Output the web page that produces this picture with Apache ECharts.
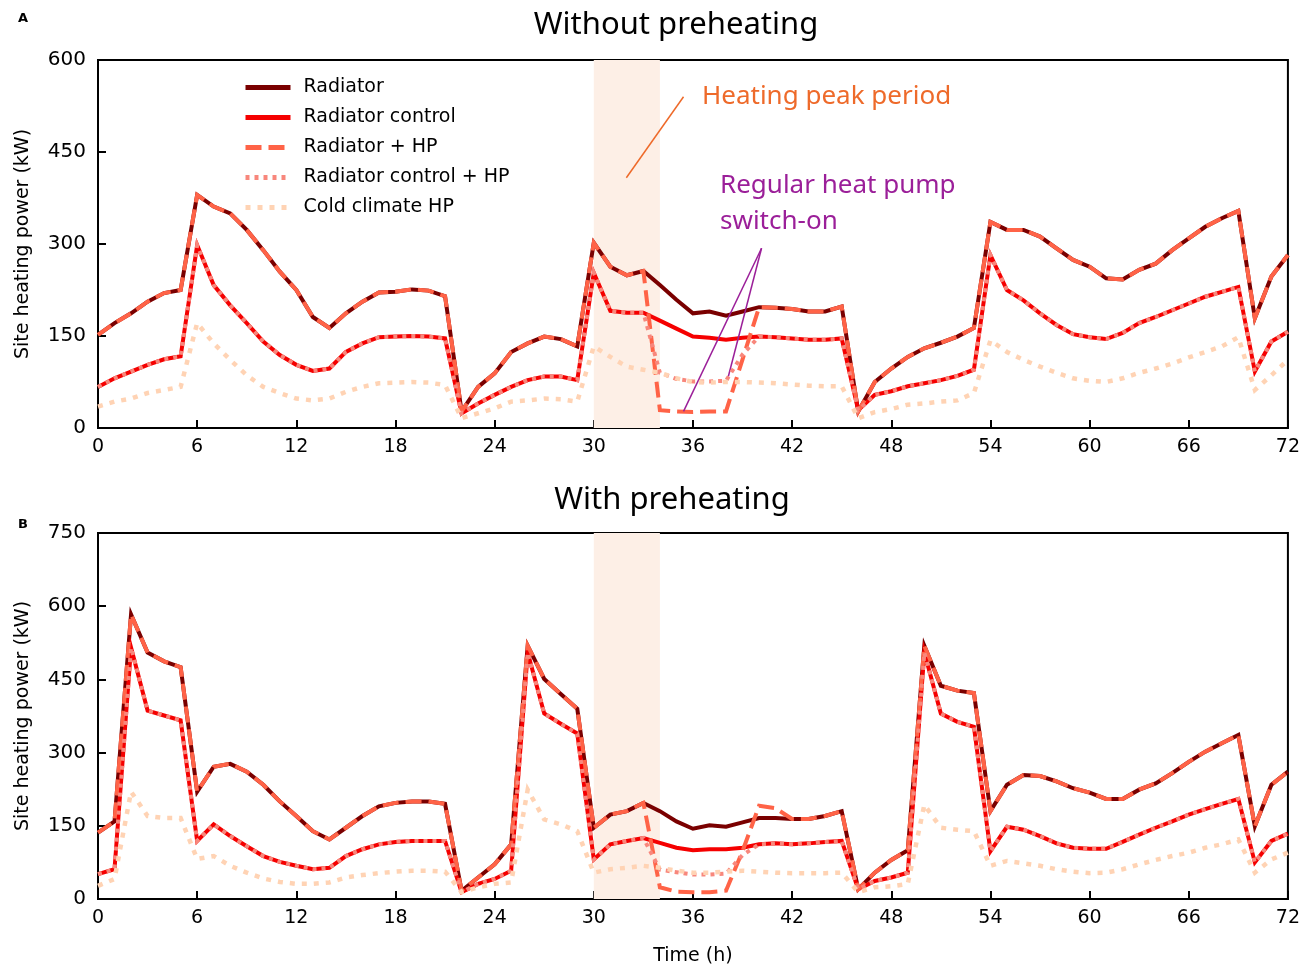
<!DOCTYPE html>
<html>
<head>
<meta charset="utf-8">
<title>Site heating power</title>
<script src="https://cdn.jsdelivr.net/npm/echarts@6/dist/echarts.min.js"></script>
<style>
  html, body { margin: 0; padding: 0; background: #fff; }
  #chart { width: 1303px; height: 967px; }
</style>
</head>
<body>
<div id="chart"></div>
<script>
// hours 0..72
var hours = [];
for (var i = 0; i <= 72; i++) hours.push(i);

var seriesNames = ["Radiator", "Radiator control", "Radiator + HP", "Radiator control + HP", "Cold climate HP"];
var xTicks = [0, 6, 12, 18, 24, 30, 36, 42, 48, 54, 60, 66, 72];
var peakPeriod = [30, 34];

// A: without preheating
var radiatorA = [152, 171, 187, 206, 220, 225, 380, 361, 350, 323, 290, 255, 225, 181, 163, 187, 206, 221, 222, 226, 224, 215, 27, 67, 89,
  124, 138, 149, 145, 133, 302, 263, 249, 256, 233, 209, 187, 190, 183, 190, 197, 196, 194, 190, 190, 198, 27, 75, 97,
  116, 130, 139, 149, 163, 336, 323, 323, 312, 293, 274, 263, 244, 242, 258, 268, 290, 309, 328, 342, 354, 179, 247, 282];
var radControlA = [67, 81, 92, 103, 112, 117, 298, 233, 200, 171, 141, 119, 103, 93, 97, 124, 138, 148, 149, 150, 149, 146, 24, 40, 54,
  67, 78, 84, 84, 78, 253, 191, 188, 188, 175, 162, 149, 147, 144, 147, 149, 148, 146, 144, 144, 146, 29, 54, 60,
  68, 73, 78, 85, 95, 282, 225, 208, 187, 168, 153, 148, 145, 155, 171, 181, 192, 203, 214, 222, 230, 92, 141, 157];
var radHpA = [152, 171, 187, 206, 220, 225, 380, 361, 350, 323, 290, 255, 225, 181, 163, 187, 206, 221, 222, 226, 224, 215, 27, 67, 89,
  124, 138, 149, 145, 133, 302, 263, 249, 256, 29, 27, 26, 27, 27, 112, 197, 196, 194, 190, 190, 198, 27, 75, 97,
  116, 130, 139, 149, 163, 336, 323, 323, 312, 293, 274, 263, 244, 242, 258, 268, 290, 309, 328, 342, 354, 179, 247, 282];
var radControlHpA = [67, 81, 92, 103, 112, 117, 298, 233, 200, 171, 141, 119, 103, 93, 97, 124, 138, 148, 149, 150, 149, 146, 24, 40, 54,
  67, 78, 84, 84, 78, 253, 191, 188, 188, 90, 80, 76, 76, 77, 120, 149, 148, 146, 144, 144, 146, 29, 54, 60,
  68, 73, 78, 85, 95, 282, 225, 208, 187, 168, 153, 148, 145, 155, 171, 181, 192, 203, 214, 222, 230, 92, 141, 157];
var coldHpA = [35, 43, 48, 57, 62, 67, 171, 138, 111, 86, 67, 57, 48, 45, 48, 59, 67, 73, 74, 75, 74, 70, 16, 24, 32,
  43, 45, 48, 47, 43, 133, 116, 100, 95, 90, 81, 75, 74, 75, 75, 74, 73, 71, 69, 68, 68, 16, 26, 31,
  38, 40, 43, 45, 57, 143, 124, 111, 100, 90, 81, 77, 75, 81, 90, 97, 105, 115, 124, 133, 148, 62, 86, 111];

// B: with preheating
var radiatorB = [136, 159, 583, 505, 487, 475, 220, 271, 277, 261, 234, 200, 170, 139, 122, 146, 170, 190, 197, 200, 200, 195, 17, 44, 71,
  112, 519, 451, 420, 390, 146, 173, 180, 197, 180, 159, 144, 151, 148, 157, 166, 166, 164, 164, 170, 180, 20, 54, 80,
  100, 519, 437, 427, 422, 180, 234, 254, 252, 241, 227, 218, 205, 205, 224, 237, 258, 281, 302, 319, 336, 149, 234, 261];
var radControlB = [51, 61, 515, 386, 376, 366, 119, 153, 129, 108, 88, 76, 68, 61, 64, 88, 102, 112, 117, 119, 119, 119, 14, 31, 41,
  58, 505, 380, 359, 339, 81, 112, 119, 125, 115, 105, 100, 102, 102, 105, 112, 114, 112, 114, 117, 119, 20, 37, 44,
  54, 505, 380, 363, 353, 98, 148, 142, 129, 114, 105, 103, 103, 117, 132, 146, 159, 173, 184, 195, 205, 75, 119, 134];
var radHpB = [136, 159, 583, 505, 487, 475, 220, 271, 277, 261, 234, 200, 170, 139, 122, 146, 170, 190, 197, 200, 200, 195, 17, 44, 71,
  112, 519, 451, 420, 390, 146, 173, 180, 197, 24, 15, 14, 14, 17, 98, 191, 186, 164, 164, 170, 180, 20, 54, 80,
  100, 519, 437, 427, 422, 180, 234, 254, 252, 241, 227, 218, 205, 205, 224, 237, 258, 281, 302, 319, 336, 149, 234, 261];
var radControlHpB = [51, 61, 515, 386, 376, 366, 119, 153, 129, 108, 88, 76, 68, 61, 64, 88, 102, 112, 117, 119, 119, 119, 14, 31, 41,
  58, 505, 380, 359, 339, 81, 112, 119, 125, 60, 55, 50, 50, 52, 90, 112, 114, 112, 114, 117, 119, 20, 37, 44,
  54, 505, 380, 363, 353, 98, 148, 142, 129, 114, 105, 103, 103, 117, 132, 146, 159, 173, 184, 195, 205, 75, 119, 134];
var coldHpB = [27, 41, 220, 170, 166, 166, 82, 88, 68, 54, 42, 35, 31, 31, 34, 44, 49, 53, 56, 58, 58, 56, 14, 24, 31,
  34, 224, 163, 153, 139, 54, 61, 64, 68, 64, 58, 54, 54, 56, 58, 56, 54, 53, 53, 53, 54, 14, 24, 26,
  31, 193, 146, 142, 139, 68, 78, 73, 68, 61, 56, 53, 54, 61, 71, 80, 88, 95, 105, 112, 122, 54, 81, 95];

var tickFont = "DejaVu Sans";
var textFont = "Noto Sans";

function pairs(vals) {
  return hours.map(function (h, i) { return [h, vals[i]]; });
}

// line looks for the 5 cases, same order as seriesNames
var looks = [
  { color: "#7a0000", type: "solid", width: 4 },
  { color: "#f50000", type: "solid", width: 4 },
  { color: "#ff6347", type: [16, 7], width: 4 },
  { color: "#f8877c", type: [4, 5], width: 4 },
  { color: "#ffd3b4", type: [5, 7], width: 4.5 }
];

function makeSeries(gridIdx, lists) {
  var arr = [];
  // shaded heating peak period, kept under the lines
  arr.push({
    type: "line",
    xAxisIndex: gridIdx,
    yAxisIndex: gridIdx,
    data: [],
    silent: true,
    z: 1,
    markArea: {
      silent: true,
      itemStyle: { color: "#fdefe6" },
      data: [[{ xAxis: peakPeriod[0] }, { xAxis: peakPeriod[1] }]]
    }
  });
  for (var i = 0; i < lists.length; i++) {
    arr.push({
      name: seriesNames[i],
      type: "line",
      xAxisIndex: gridIdx,
      yAxisIndex: gridIdx,
      data: pairs(lists[i]),
      symbol: "none",
      z: 2 + i,
      animation: false,
      lineStyle: {
        color: looks[i].color,
        width: looks[i].width,
        type: looks[i].type,
        cap: "butt",
        join: "miter"
      },
      itemStyle: { color: looks[i].color }
    });
  }
  return arr;
}

function xAxisOf(gridIdx, withName) {
  return {
    type: "value",
    gridIndex: gridIdx,
    min: 0,
    max: 72,
    interval: 6,
    name: withName ? "Time (h)" : "",
    nameLocation: "middle",
    nameGap: 48,
    nameTextStyle: { fontFamily: tickFont, fontSize: 19, color: "#000" },
    axisLine: { show: true, onZero: false, lineStyle: { color: "#000", width: 2 } },
    axisTick: { show: true, inside: true, length: 8, lineStyle: { color: "#000", width: 2 } },
    axisLabel: { fontFamily: tickFont, fontSize: 19, color: "#000", margin: 10 },
    splitLine: { show: false }
  };
}

function yAxisOf(gridIdx, max) {
  return {
    type: "value",
    gridIndex: gridIdx,
    min: 0,
    max: max,
    interval: 150,
    name: "Site heating power (kW)",
    nameLocation: "middle",
    nameGap: 65,
    nameTextStyle: { fontFamily: tickFont, fontSize: 19, color: "#000" },
    axisLine: { show: true, lineStyle: { color: "#000", width: 2 } },
    axisTick: { show: true, inside: true, length: 8, lineStyle: { color: "#000", width: 2 } },
    axisLabel: { fontFamily: tickFont, fontSize: 20, color: "#000", margin: 12 },
    splitLine: { show: false }
  };
}

var seriesA = makeSeries(0, [radiatorA, radControlA, radHpA, radControlHpA, coldHpA]);
var seriesB = makeSeries(1, [radiatorB, radControlB, radHpB, radControlHpB, coldHpB]);

// annotation pointer lines in panel A (data coordinates)
seriesA.push({
  type: "line",
  xAxisIndex: 0,
  yAxisIndex: 0,
  data: [],
  silent: true,
  z: 10,
  markLine: {
    silent: true,
    symbol: "none",
    label: { show: false },
    data: [
      [{ coord: [35.43, 540], lineStyle: { color: "#ee6a2a", width: 1.5, type: "solid" } },
       { coord: [31.97, 408] }],
      [{ coord: [40.15, 293], lineStyle: { color: "#9b1f99", width: 1.5, type: "solid" } },
       { coord: [35.43, 27] }],
      [{ coord: [40.15, 293], lineStyle: { color: "#9b1f99", width: 1.5, type: "solid" } },
       { coord: [38.14, 84] }]
    ]
  }
});

var option = {
  backgroundColor: "#fff",
  animation: false,
  grid: [
    { left: 98, right: 12, top: 60, height: 368, show: true, borderColor: "#000", borderWidth: 2, backgroundColor: "transparent" },
    { left: 98, right: 12, top: 533, height: 368, show: true, borderColor: "#000", borderWidth: 2, backgroundColor: "transparent" }
  ],
  xAxis: [xAxisOf(0, false), xAxisOf(1, true)],
  yAxis: [yAxisOf(0, 600), yAxisOf(1, 750)],
  legend: {
    data: seriesNames,
    orient: "vertical",
    left: 238,
    top: 73,
    itemWidth: 45,
    itemHeight: 16,
    itemGap: 11,
    selectedMode: false,
    itemStyle: { opacity: 0 },
    lineStyle: { width: 5 },
    textStyle: { fontFamily: tickFont, fontSize: 19, color: "#000", padding: [0, 0, 0, 8] }
  },
  graphic: [
    { type: "text", left: 18, top: 12, style: { text: "A", font: "bold 13px " + tickFont, fill: "#000" } },
    { type: "text", left: 18, top: 518, style: { text: "B", font: "bold 13px " + tickFont, fill: "#000" } },
    { type: "text", x: 676, y: 25, style: { text: "Without preheating", font: "31px '" + textFont + "'", fill: "#000", align: "center", verticalAlign: "middle" } },
    { type: "text", x: 672, y: 500, style: { text: "With preheating", font: "31px '" + textFont + "'", fill: "#000", align: "center", verticalAlign: "middle" } },
    { type: "text", x: 702, y: 97, style: { text: "Heating peak period", font: "26px '" + textFont + "'", fill: "#ee6a2a", verticalAlign: "middle" } },
    { type: "text", x: 720, y: 186, style: { text: "Regular heat pump", font: "26px '" + textFont + "'", fill: "#9b1f99", verticalAlign: "middle" } },
    { type: "text", x: 720, y: 222, style: { text: "switch-on", font: "26px '" + textFont + "'", fill: "#9b1f99", verticalAlign: "middle" } }
  ],
  series: seriesA.concat(seriesB)
};

var myChart = echarts.init(document.getElementById("chart"), null, { renderer: "canvas" });
myChart.setOption(option);
</script>
</body>
</html>
